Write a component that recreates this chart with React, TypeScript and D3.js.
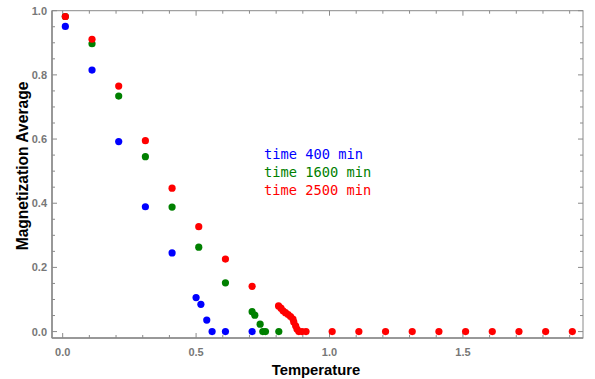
import React from "react";
import * as d3 from "d3";

const blueT = [0.01, 0.11, 0.21, 0.31, 0.41, 0.5, 0.518, 0.54, 0.56, 0.61, 0.71];
const blueM = [0.951, 0.815, 0.592, 0.389, 0.245, 0.106, 0.085, 0.036, 0, 0, 0];

const greenT = [0.01, 0.11, 0.21, 0.31, 0.41, 0.51, 0.61, 0.71, 0.72, 0.74, 0.75, 0.76, 0.81];
const greenM = [0.982, 0.897, 0.734, 0.545, 0.388, 0.263, 0.152, 0.062, 0.051, 0.023, 0, 0, 0];

const redT = [0.01, 0.11, 0.21, 0.31, 0.41, 0.51, 0.61, 0.71, 0.809, 0.818, 0.826, 0.835, 0.845, 0.854, 0.863, 0.866, 0.873, 0.878, 0.885, 0.897, 0.912, 1.01, 1.11, 1.21, 1.31, 1.41, 1.51, 1.61, 1.71, 1.81, 1.91];
const redM = [0.982, 0.911, 0.765, 0.595, 0.447, 0.327, 0.226, 0.141, 0.08, 0.073, 0.065, 0.059, 0.053, 0.047, 0.039, 0.03, 0.018, 0.008, 0, 0, 0, 0, 0, 0, 0, 0, 0, 0, 0, 0, 0];

const xMajor = [0, 0.5, 1.0, 1.5];
const xLabels = ["0.0", "0.5", "1.0", "1.5"];
const yMajor = [0, 0.2, 0.4, 0.6, 0.8, 1.0];
const yLabels = ["0.0", "0.2", "0.4", "0.6", "0.8", "1.0"];

const legend = ["time 400 min", "time 1600 min", "time 2500 min"];
const colors = ["#0000ff", "#008000", "#ff0000"];

export default function App() {
  const W = 595, H = 379;
  const x = d3.scaleLinear().domain([-0.04, 1.95]).range([52, 583]);
  const y = d3.scaleLinear().domain([-0.02, 1.0]).range([338, 10.7]);
  const [x0, x1] = x.range();
  const [yb, yt] = y.range();
  const axisColor = "#8a8a8a";
  const xMinor = d3.range(0, 19.5, 1).map((i) => i / 10).filter((v) => !xMajor.some((m) => Math.abs(m - v) < 1e-9));
  const yMinor = d3.range(0, 20.5, 1).map((i) => i / 20).filter((v) => !yMajor.some((m) => Math.abs(m - v) < 1e-9));
  const series = [
    { t: blueT, m: blueM, c: colors[0] },
    { t: greenT, m: greenM, c: colors[1] },
    { t: redT, m: redM, c: colors[2] },
  ];
  return (
    <svg width={W} height={H} style={{ position: "absolute", left: 0, top: 0, background: "#fff" }}>
      <rect x={x0} y={yt} width={x1 - x0} height={yb - yt} fill="none" stroke={axisColor} strokeWidth={1} />
      <line x1={x0} x2={x1} y1={yb} y2={yb} stroke={axisColor} strokeWidth={1.5} />
      <line x1={x0} x2={x0} y1={yt} y2={yb} stroke={axisColor} strokeWidth={1.5} />
      {xMajor.map((v) => (
        <g key={"xM" + v}>
          <line x1={x(v)} x2={x(v)} y1={yb} y2={yb - 5} stroke={axisColor} />
          <line x1={x(v)} x2={x(v)} y1={yt} y2={yt + 5} stroke={axisColor} />
        </g>
      ))}
      {xMinor.map((v) => (
        <g key={"xm" + v}>
          <line x1={x(v)} x2={x(v)} y1={yb} y2={yb - 3} stroke={axisColor} />
          <line x1={x(v)} x2={x(v)} y1={yt} y2={yt + 3} stroke={axisColor} />
        </g>
      ))}
      {yMajor.map((v) => (
        <g key={"yM" + v}>
          <line x1={x0} x2={x0 + 5} y1={y(v)} y2={y(v)} stroke={axisColor} />
          <line x1={x1} x2={x1 - 5} y1={y(v)} y2={y(v)} stroke={axisColor} />
        </g>
      ))}
      {yMinor.map((v) => (
        <g key={"ym" + v}>
          <line x1={x0} x2={x0 + 3} y1={y(v)} y2={y(v)} stroke={axisColor} />
          <line x1={x1} x2={x1 - 3} y1={y(v)} y2={y(v)} stroke={axisColor} />
        </g>
      ))}
      {xMajor.map((v, i) => (
        <text key={"xl" + v} x={x(v)} y={356} textAnchor="middle" fontFamily="Liberation Sans, Arial, sans-serif" fontSize={11} fontWeight="bold" fill="#777">
          {xLabels[i]}
        </text>
      ))}
      {yMajor.map((v, i) => (
        <text key={"yl" + v} x={47} y={y(v) + 4} textAnchor="end" fontFamily="Liberation Sans, Arial, sans-serif" fontSize={11} fontWeight="bold" fill="#777">
          {yLabels[i]}
        </text>
      ))}
      {series.map((s, si) =>
        s.t.map((t, i) => <circle key={si + "-" + i} cx={x(t)} cy={y(s.m[i])} r={3.6} fill={s.c} />)
      )}
      {legend.map((l, i) => (
        <text key={l} x={264} y={158.5 + i * 18} fontFamily="DejaVu Sans Mono, monospace" fontSize={13.7} fill={colors[i]}>
          {l}
        </text>
      ))}
      <text x={316} y={375} textAnchor="middle" fontFamily="Liberation Sans, Arial, sans-serif" fontSize={14.8} fontWeight="bold" fill="#000">
        Temperature
      </text>
      <text transform={`translate(28,166) rotate(-90)`} textAnchor="middle" fontFamily="Liberation Sans, Arial, sans-serif" fontSize={15.6} fontWeight="bold" fill="#000">
        Magnetization Average
      </text>
    </svg>
  );
}
